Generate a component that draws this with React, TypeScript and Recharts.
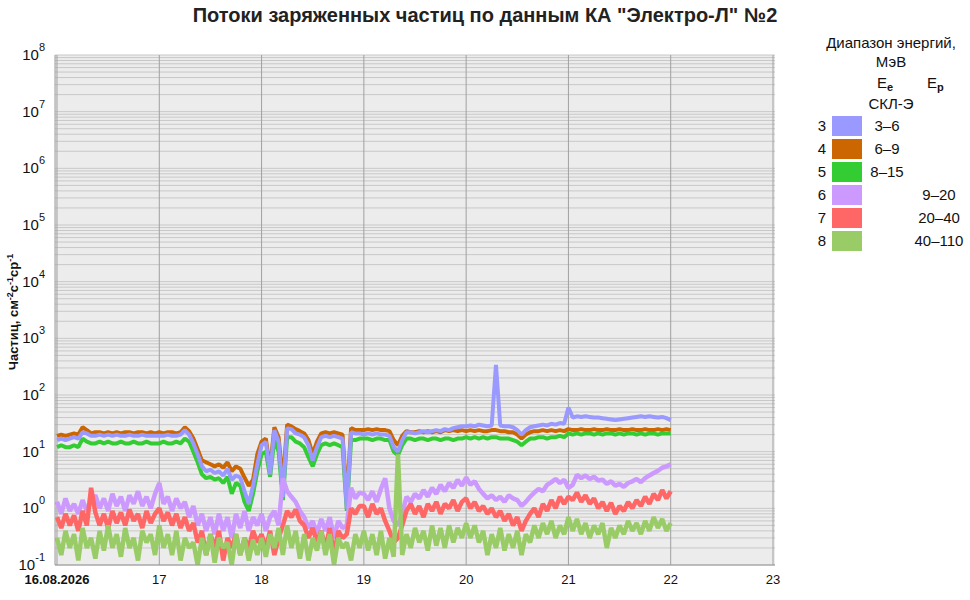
import React from "react";
import {
  LineChart,
  Line,
  XAxis,
  YAxis,
  CartesianGrid,
  ReferenceLine,
} from "recharts";

// hourly samples, 16.08 00:00 .. 22.08 00:00
const START_DAY = 16;
const STEPS_PER_DAY = 24;

const DAY_TICKS = [16, 17, 18, 19, 20, 21, 22, 23];
const DECADES = [-1, 0, 1, 2, 3, 4, 5, 6, 7];
const TOP_DECADE = 8;

// electrons (SKL-E), channels 3..5
const CH3 = [
  16, 17, 16, 17, 18, 17, 22, 21, 19, 19, 20, 19, 20, 19, 20, 19, 19, 20, 19, 19, 20, 19, 19, 19,
  19, 19, 20, 19, 19, 20, 24, 20, 14, 9, 5.5, 4.5, 4.8, 4.2, 4.5, 3.8, 5, 3.2, 3.8, 3.5, 2.0, 1.2, 2.5, 6,
  13, 15, 4, 24, 15, 1.6, 26, 25, 21, 20, 18, 13, 7, 12, 18, 19, 18, 19, 18, 17, 1.0, 22, 21, 21,
  20, 21, 20, 21, 20, 20, 19, 12, 10, 16, 22, 22, 21, 22, 23, 22, 23, 24, 23, 25, 24, 26, 27, 28,
  28, 29, 28, 30, 29, 28, 29, 340, 29, 28, 28, 27, 24, 20, 24, 27, 28, 29, 30, 29, 31, 30, 32, 31,
  60, 40, 42, 41, 42, 41, 40, 40, 39, 38, 37, 36, 37, 38, 39, 40, 41, 42, 41, 42, 41, 40, 41, 39,
  36,
];
const CH4 = [
  19, 20, 19, 20, 21, 20, 27, 24, 21, 22, 22, 21, 22, 21, 22, 21, 22, 22, 21, 22, 22, 21, 22, 21,
  22, 21, 22, 22, 21, 22, 27, 23, 17, 11, 7, 6.5, 6, 5.5, 6, 5.2, 6.5, 4.5, 5.5, 5, 3.5, 2.5, 3.2, 9,
  15, 17, 5, 27, 18, 2.8, 30, 28, 25, 23, 21, 16, 9, 15, 21, 22, 21, 22, 21, 20, 1.4, 26, 24, 24,
  24, 25, 24, 25, 24, 24, 23, 16, 13, 19, 23, 22, 22, 23, 22, 23, 22, 23, 22, 24, 23, 24, 23, 24,
  23, 24, 23, 24, 23, 23, 24, 24, 23, 23, 22, 22, 20, 17, 20, 22, 23, 23, 24, 23, 24, 23, 24, 23,
  25, 24, 24, 25, 24, 24, 25, 24, 24, 25, 24, 24, 25, 24, 24, 25, 24, 24, 25, 24, 24, 25, 24, 25,
  24,
];
const CH5 = [
  12, 13, 12, 12, 13, 12, 17, 15, 14, 14, 15, 14, 15, 14, 14, 15, 14, 14, 15, 14, 14, 15, 14, 14,
  14, 15, 14, 14, 15, 14, 17, 15, 10, 6.5, 4, 3.4, 3.6, 3.2, 3.4, 2.8, 3.6, 1.8, 2.8, 2.5, 1.3, 0.9, 1.8, 4.5,
  9, 10, 3.6, 16, 10, 1.4, 18, 18, 15, 14, 12, 8, 5.5, 9, 13, 14, 13, 14, 13, 12, 0.9, 16, 16, 17,
  17, 17, 16, 17, 17, 16, 16, 10, 8.7, 13, 17, 17, 16, 17, 17, 16, 17, 17, 16, 17, 17, 16, 17, 17,
  18, 17, 18, 17, 18, 17, 18, 18, 17, 17, 17, 16, 15, 13, 15, 17, 17, 18, 18, 17, 18, 18, 19, 18,
  21, 20, 21, 20, 21, 21, 20, 21, 20, 21, 21, 20, 21, 20, 21, 21, 20, 21, 20, 21, 21, 20, 21, 21,
  21,
];

// protons, channels 6..8
const CH6 = [
  1.3, 0.8, 1.5, 0.9, 1.2, 0.8, 1.4, 0.9, 1.3, 1.7, 1.0, 1.5, 0.9, 1.8, 1.1, 1.6, 0.9, 1.7, 1.2, 2.0, 1.1, 1.6, 1.0, 1.8,
  2.8, 1.2, 1.6, 0.9, 1.5, 1.0, 1.3, 0.7, 1.1, 0.5, 0.8, 0.4, 0.7, 0.35, 0.8, 0.4, 0.7, 0.3, 0.8, 0.45, 0.9, 0.4, 0.7, 0.5,
  0.8, 0.4, 0.7, 0.9, 0.5, 3.4, 2.0, 1.6, 1.3, 0.9, 0.7, 0.45, 0.6, 0.35, 0.65, 0.4, 0.7, 0.3, 0.6, 0.45, 0.5, 2.3, 1.5, 1.9,
  1.8, 1.4, 2.0, 1.3, 2.2, 3.4, 1.0, 0.6, 0.5, 0.8, 1.6, 1.3, 1.8, 1.5, 2.1, 1.6, 2.3, 1.8, 2.6, 2.0, 2.8, 2.3, 3.2, 2.5,
  3.5, 2.6, 3.0, 2.2, 1.8, 1.5, 1.7, 1.4, 1.6, 1.3, 1.7, 1.5, 1.4, 1.1, 1.3, 1.6, 1.9, 2.2, 2.0, 2.6, 2.9, 3.3, 2.8, 3.2,
  2.3, 2.6, 3.9, 3.4, 3.8, 3.3, 3.6, 3.1, 3.2, 2.7, 3.0, 2.5, 2.7, 2.4, 2.8, 3.0, 3.3, 2.9, 3.4, 3.8, 4.2, 4.6, 5.2, 5.5,
  6,
];
const CH7 = [
  0.7, 0.45, 0.8, 0.5, 0.75, 0.4, 0.9, 0.5, 2.3, 0.85, 0.5, 0.8, 0.45, 0.9, 0.55, 0.85, 0.5, 0.95, 0.6, 0.8, 0.45, 0.9, 0.55, 0.8,
  1.0, 0.6, 0.85, 0.5, 0.8, 0.45, 0.7, 0.4, 0.55, 0.25, 0.4, 0.15, 0.35, 0.2, 0.4, 0.12, 0.3, 0.2, 0.35, 0.15, 0.3, 0.2, 0.4, 0.25,
  0.35, 0.2, 0.4, 0.15, 0.3, 0.5, 0.9, 0.7, 0.95, 0.6, 0.5, 0.3, 0.45, 0.25, 0.4, 0.2, 0.45, 0.15, 0.4, 0.3, 0.35, 1.0, 0.8, 1.1,
  1.1, 0.7, 1.2, 0.8, 1.0, 0.6, 0.4, 0.25, 0.3, 0.5, 0.9, 1.2, 0.8, 1.1, 0.7, 1.2, 0.9, 1.3, 0.8, 1.2, 1.0, 1.4, 0.9, 1.3,
  1.5, 1.0, 1.3, 0.9, 1.1, 0.8, 1.0, 0.7, 0.9, 0.6, 0.8, 0.5, 0.7, 0.4, 0.6, 0.8, 1.0, 0.7, 1.2, 0.9, 1.4, 1.0, 1.6, 1.2,
  1.6, 1.4, 1.9, 1.3, 1.7, 1.2, 1.5, 1.0, 1.3, 0.9, 1.25, 0.8, 1.1, 0.9, 1.3, 1.0, 1.4, 1.1, 1.6, 1.2, 1.8, 1.4, 2.1, 1.5,
  2.0,
];
const CH8 = [
  0.3, 0.15, 0.4, 0.2, 0.35, 0.12, 0.45, 0.2, 0.3, 0.13, 0.4, 0.18, 0.5, 0.2, 0.35, 0.14, 0.45, 0.2, 0.3, 0.12, 0.4, 0.25, 0.35, 0.15,
  0.5, 0.2, 0.35, 0.15, 0.4, 0.12, 0.3, 0.2, 0.25, 0.1, 0.3, 0.15, 0.35, 0.11, 0.3, 0.2, 0.25, 0.1, 0.35, 0.15, 0.3, 0.12, 0.28, 0.15,
  0.3, 0.14, 0.35, 0.2, 0.45, 0.15, 0.5, 0.2, 0.4, 0.13, 0.35, 0.12, 0.3, 0.18, 0.4, 0.15, 0.35, 0.1, 0.3, 0.2, 0.25, 0.12, 0.35, 0.2,
  0.4, 0.18, 0.35, 0.15, 0.4, 0.13, 0.3, 0.14, 9, 0.15, 0.35, 0.2, 0.45, 0.25, 0.4, 0.18, 0.5, 0.22, 0.45, 0.2, 0.5, 0.25, 0.45, 0.3,
  0.55, 0.3, 0.5, 0.25, 0.4, 0.15, 0.35, 0.2, 0.45, 0.18, 0.35, 0.2, 0.4, 0.15, 0.35, 0.25, 0.5, 0.3, 0.55, 0.35, 0.6, 0.3, 0.5, 0.35,
  0.7, 0.4, 0.65, 0.35, 0.55, 0.3, 0.5, 0.35, 0.55, 0.2, 0.45, 0.3, 0.5, 0.35, 0.6, 0.4, 0.55, 0.35, 0.6, 0.4, 0.7, 0.45, 0.65, 0.4,
  0.55,
];

const CHANNELS = [
  { key: "ch3", num: "3", color: "#9999ff", ee: "3–6", ep: "", width: 4, values: CH3 },
  { key: "ch4", num: "4", color: "#cc6600", ee: "6–9", ep: "", width: 4, values: CH4 },
  { key: "ch5", num: "5", color: "#33cc33", ee: "8–15", ep: "", width: 4, values: CH5 },
  { key: "ch6", num: "6", color: "#cc99ff", ee: "", ep: "9–20", width: 4.5, values: CH6 },
  { key: "ch7", num: "7", color: "#ff6666", ee: "", ep: "20–40", width: 4.5, values: CH7 },
  { key: "ch8", num: "8", color: "#99cc66", ee: "", ep: "40–110", width: 4.5, values: CH8 },
];
// drawing order (later = on top)
const DRAW_ORDER = ["ch4", "ch5", "ch3", "ch6", "ch7", "ch8"];

const data = CH3.map((_, i) => {
  const row: Record<string, number> = { t: START_DAY + i / STEPS_PER_DAY };
  CHANNELS.forEach((c) => (row[c.key] = c.values[i]));
  return row;
});

const yTicks: number[] = [];
DECADES.forEach((e) => {
  for (let m = 1; m <= 9; m++) yTicks.push(m * Math.pow(10, e));
});
yTicks.push(Math.pow(10, TOP_DECADE));

const FONT = '"Liberation Sans", Arial, sans-serif';
const PAD = 2 / 102.3; // small gap between border and first/last day line

function YTick(props: any) {
  const { x, y, payload } = props;
  const exp = Math.log10(payload.value);
  if (Math.abs(exp - Math.round(exp)) > 1e-6) return <g />;
  return (
    <text x={x - 2} y={y + 5} textAnchor="end" fontSize={15} fill="#111" fontFamily={FONT}>
      10
      <tspan dy={-9} fontSize={11}>
        {Math.round(exp)}
      </tspan>
    </text>
  );
}

function XTick(props: any) {
  const { x, y, payload, index } = props;
  const first = index === 0;
  return (
    <text
      x={x}
      y={y + 11}
      textAnchor="middle"
      fontSize={13}
      fontWeight={first ? "bold" : "normal"}
      fill="#111"
      fontFamily={FONT}
    >
      {first ? "16.08.2026" : payload.value}
    </text>
  );
}

function Legend() {
  const rowTop = 116;
  const rowH = 23;
  return (
    <svg width={200} height={300} style={{ position: "absolute", left: 780, top: 0 }}>
      <g fontFamily={FONT} fontSize={15} fill="#111">
        <text x={111} y={48} textAnchor="middle">Диапазон энергий,</text>
        <text x={111} y={67} textAnchor="middle">МэВ</text>
        <text x={97} y={88}>
          E<tspan fontSize={11} dy={3} fontWeight="bold">e</tspan>
        </text>
        <text x={147} y={88}>
          E<tspan fontSize={11} dy={3} fontWeight="bold">p</tspan>
        </text>
        <text x={111} y={109} textAnchor="middle">СКЛ-Э</text>
        {CHANNELS.map((c, i) => (
          <g key={c.key}>
            <text x={46} y={rowTop + i * rowH + 15} textAnchor="end">{c.num}</text>
            <rect x={52} y={rowTop + i * rowH} width={30} height={20} fill={c.color} />
            {c.ee && (
              <text x={107} y={rowTop + i * rowH + 15} textAnchor="middle">{c.ee}</text>
            )}
            {c.ep && (
              <text x={159} y={rowTop + i * rowH + 15} textAnchor="middle">{c.ep}</text>
            )}
          </g>
        ))}
      </g>
    </svg>
  );
}

export default function App() {
  return (
    <div style={{ position: "absolute", left: 0, top: 0, width: 970, height: 600, background: "#fff" }}>
      <svg width={970} height={600} style={{ position: "absolute", left: 0, top: 0 }}>
        <text
          x={485}
          y={22}
          textAnchor="middle"
          fontFamily={FONT}
          fontWeight="bold"
          fontSize={20}
          fill="#222"
        >
          Потоки заряженных частиц по данным КА "Электро-Л" №2
        </text>
        <text
          transform="translate(18,312) rotate(-90)"
          textAnchor="middle"
          fontFamily={FONT}
          fontWeight="bold"
          fontSize={13}
          fill="#111"
        >
          Частиц, см<tspan dy={-5} fontSize={9}>-2</tspan>
          <tspan dy={5}>с</tspan>
          <tspan dy={-5} fontSize={9}>-1</tspan>
          <tspan dy={5}>ср</tspan>
          <tspan dy={-5} fontSize={9}>-1</tspan>
        </text>
      </svg>
      <div style={{ position: "absolute", left: 0, top: 0 }}>
        <LineChart
          width={970}
          height={600}
          data={data}
          margin={{ top: 55, right: 195, bottom: 0, left: 10 }}
        >
          <CartesianGrid
            vertical={false}
            stroke="#c8c8c8"
            strokeWidth={1}
            fill="#ececec"
            fillOpacity={1}
          />
          <XAxis
            dataKey="t"
            type="number"
            domain={[START_DAY - PAD, 23 + PAD]}
            ticks={DAY_TICKS}
            tick={<XTick />}
            tickLine={false}
            axisLine={{ stroke: "#999" }}
            height={35}
            allowDataOverflow
            interval={0}
          />
          <XAxis
            xAxisId="top"
            orientation="top"
            type="number"
            domain={[START_DAY - PAD, 23 + PAD]}
            tick={false}
            tickLine={false}
            axisLine={{ stroke: "#999" }}
            height={0}
          />
          <YAxis
            type="number"
            scale="log"
            domain={[0.1, 100000000]}
            ticks={yTicks}
            tick={<YTick />}
            tickLine={false}
            axisLine={{ stroke: "#999" }}
            width={45}
            allowDataOverflow
            interval={0}
          />
          <YAxis
            yAxisId="right"
            orientation="right"
            type="number"
            tick={false}
            tickLine={false}
            axisLine={{ stroke: "#999" }}
            width={0}
          />
          {DAY_TICKS.map((d) => (
            <ReferenceLine key={d} x={d} stroke="#a0a0a0" strokeWidth={1} />
          ))}
          {DRAW_ORDER.map((k) => {
            const c = CHANNELS.find((ch) => ch.key === k)!;
            return (
              <Line
                key={k}
                dataKey={k}
                stroke={c.color}
                strokeWidth={c.width}
                dot={false}
                isAnimationActive={false}
                strokeLinejoin="bevel"
              />
            );
          })}
        </LineChart>
      </div>
      <Legend />
    </div>
  );
}
